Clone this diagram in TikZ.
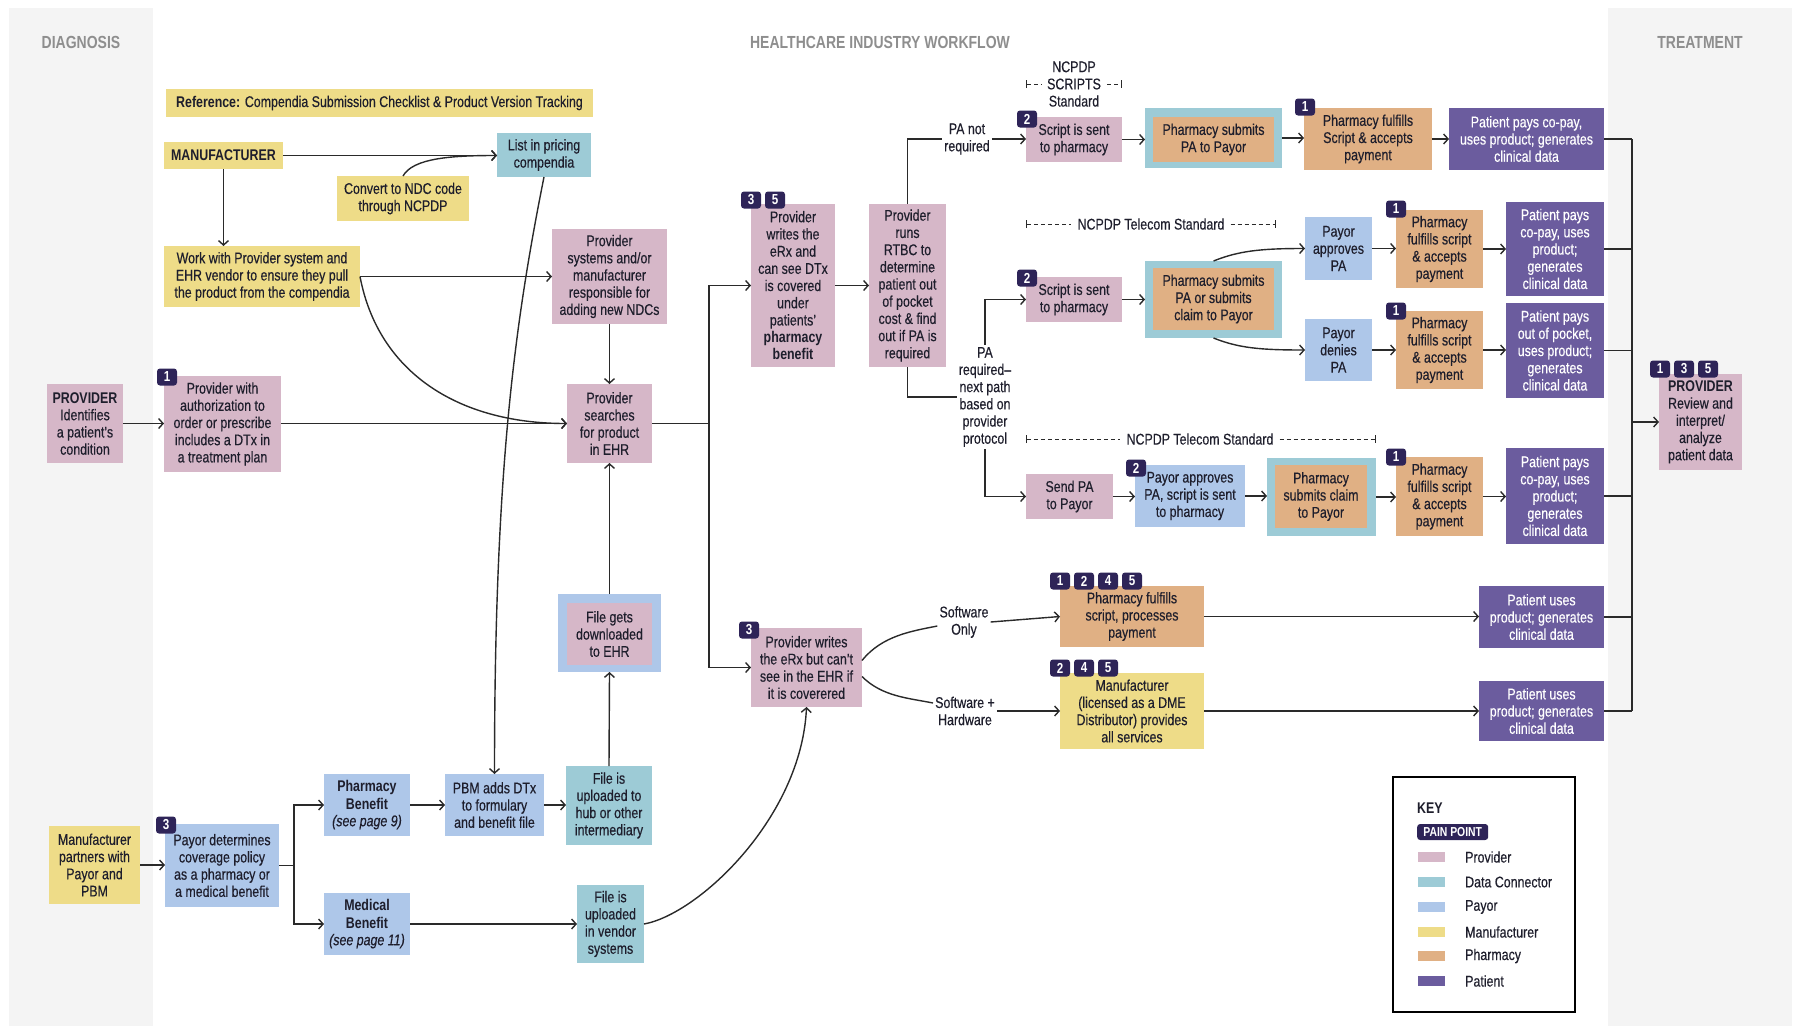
\documentclass[tikz,border=0pt]{standalone}
\usepackage{fontspec}
\setmainfont[FakeStretch=0.8, UprightFeatures={FakeBold=0.4}, ItalicFeatures={FakeBold=0.4}]{Liberation Sans}
\usetikzlibrary{arrows.meta,calc}
\definecolor{provc}{HTML}{D6B7C8}
\definecolor{connc}{HTML}{9DCBD6}
\definecolor{payc}{HTML}{AEC7E9}
\definecolor{manc}{HTML}{EEDC88}
\definecolor{pharmc}{HTML}{E0B084}
\definecolor{patc}{HTML}{6B5C9E}
\definecolor{badgec}{HTML}{2E2458}
\definecolor{bandc}{HTML}{F4F4F4}
\definecolor{titlec}{HTML}{8E8E8E}
\definecolor{txtc}{HTML}{1E1E2C}
\definecolor{linec}{HTML}{2A2A2A}
\newcommand\dfont{\fontsize{15.5}{17.2}\selectfont}
\tikzset{
  rect/.style n args={4}{minimum width={(#3-#1)*1pt}, minimum height={(#4-#2)*1pt}, at={({(#1+#3)/2},{(#2+#4)/2})}},
  box/.style={inner sep=0pt, outer sep=0pt, align=center, font=\dfont, text=txtc},
  prov/.style={box, fill=provc},
  conn/.style={box, fill=connc},
  payor/.style={box, fill=payc},
  manu/.style={box, fill=manc},
  pharm/.style={box, fill=pharmc},
  pat/.style={box, fill=patc, text=white},
  lbl/.style={inner sep=2pt, align=center, font=\dfont, text=txtc},
  stdlbl/.style={lbl, inner xsep=6pt},
  ttl/.style={inner sep=0pt, font=\bfseries\fontsize{17.5}{18}\selectfont, text=titlec},
  arr/.style={line width=1.4pt, draw=linec, -{Straight Barb[length=4.5pt,width=10pt]}},
  ln/.style={line width=1.4pt, draw=linec},
  dsh/.style={line width=1pt, draw=linec, dash pattern=on 4pt off 3pt},
  badge/.style={fill=badgec, text=white, font=\bfseries\fontsize{14.5}{14.5}\selectfont, rounded corners=3pt, minimum width=20pt, minimum height=17pt, inner sep=0pt}
}
\begin{document}
\begin{tikzpicture}[x=1pt,y=-1pt]
\useasboundingbox (0,0) rectangle (1802,1026);
\fill[bandc] (9,8) rectangle (153,1026);
\fill[bandc] (1608,8) rectangle (1792,1026);

% titles
\node[ttl] (tdiag) at (81,42) {DIAGNOSIS};
\node[ttl] (tmain) at (880,42) {HEALTHCARE INDUSTRY WORKFLOW};
\node[ttl] (ttreat) at (1700,42) {TREATMENT};

% top-left manufacturer area
\node[manu, rect={166}{89}{593}{117}] (ref) {\textbf{Reference:} Compendia Submission Checklist \& Product Version Tracking};
\node[manu, rect={164}{142}{283}{169}] (mfr) {\textbf{MANUFACTURER}};
\node[conn, rect={497}{133}{591}{177}] (list) {List in pricing\\compendia};
\node[manu, rect={337}{176}{469}{221}] (ndc) {Convert to NDC code\\through NCPDP};
\node[manu, rect={164}{246}{360}{307}] (work) {Work with Provider system and\\EHR vendor to ensure they pull\\the product from the compendia};
\node[prov, rect={552}{229}{667}{324}] (psys) {Provider\\systems and/or\\manufacturer\\responsible for\\adding new NDCs};
\node[prov, rect={567}{384}{652}{463}] (search) {Provider\\searches\\for product\\in EHR};

% provider row
\node[prov, rect={47}{384}{123}{463}] (provid) {\textbf{PROVIDER}\\Identifies\\a patient's\\condition};
\node[prov, rect={164}{376}{281}{472}] (auth) {Provider with\\authorization to\\order or prescribe\\includes a DTx in\\a treatment plan};
\node[badge] (bA) at (167,377) {1};

% eRx column
\node[prov, rect={751}{204}{835}{367}] (writes1) {Provider\\writes the\\eRx and\\can see DTx\\is covered\\under\\patients'\\\textbf{pharmacy}\\\textbf{benefit}};
\node[badge] (bB1) at (751,200) {3};
\node[badge] (bB2) at (775,200) {5};
\node[prov, rect={869}{204}{946}{367}] (rtbc) {Provider\\runs\\RTBC to\\determine\\patient out\\of pocket\\cost \& find\\out if PA is\\required};
\node[lbl] (panr) at (967,139) {PA not\\required};
\node[lbl] (pareq) at (985,397) {PA\\required–\\next path\\based on\\provider\\protocol};

% row 1
\node[stdlbl] (scripts) at (1074,84) {NCPDP\\SCRIPTS\\Standard};
\node[prov, rect={1026}{117}{1122}{162}] (script1) {Script is sent\\to pharmacy};
\node[badge] (bC) at (1027,119) {2};
\node[conn, rect={1145}{108}{1282}{168}] (sub1out) {};
\node[pharm, rect={1153}{117}{1274}{162}] (sub1) {Pharmacy submits\\PA to Payor};
\node[pharm, rect={1304}{108}{1432}{170}] (ful1) {Pharmacy fulfills\\Script \& accepts\\payment};
\node[badge] (bD) at (1305,107) {1};
\node[pat, rect={1449}{108}{1604}{170}] (pat1) {Patient pays co-pay,\\uses product; generates\\clinical data};

% row 2
\node[stdlbl] (tel1) at (1151,224) {NCPDP Telecom Standard};
\node[prov, rect={1026}{277}{1122}{322}] (script2) {Script is sent\\to pharmacy};
\node[badge] (bE) at (1027,278) {2};
\node[conn, rect={1145}{261}{1282}{338}] (sub2out) {};
\node[pharm, rect={1153}{268}{1274}{330}] (sub2) {Pharmacy submits\\PA or submits\\claim to Payor};
\node[payor, rect={1305}{217}{1372}{280}] (appr) {Payor\\approves\\PA};
\node[payor, rect={1305}{319}{1372}{381}] (deny) {Payor\\denies\\PA};
\node[pharm, rect={1396}{210}{1483}{288}] (ful2) {Pharmacy\\fulfills script\\\& accepts\\payment};
\node[badge] (bF) at (1396,209) {1};
\node[pharm, rect={1396}{311}{1483}{389}] (ful3) {Pharmacy\\fulfills script\\\& accepts\\payment};
\node[badge] (bG) at (1396,311) {1};
\node[pat, rect={1506}{202}{1604}{296}] (pat2) {Patient pays\\co-pay, uses\\product;\\generates\\clinical data};
\node[pat, rect={1506}{303}{1604}{398}] (pat3) {Patient pays\\out of pocket,\\uses product;\\generates\\clinical data};

% row 3
\node[stdlbl] (tel2) at (1200,439) {NCPDP Telecom Standard};
\node[prov, rect={1026}{474}{1113}{519}] (sendpa) {Send PA\\to Payor};
\node[payor, rect={1135}{465}{1245}{527}] (appr2) {Payor approves\\PA, script is sent\\to pharmacy};
\node[badge] (bH) at (1136,468) {2};
\node[conn, rect={1267}{458}{1376}{536}] (sub3out) {};
\node[pharm, rect={1275}{465}{1367}{528}] (sub3) {Pharmacy\\submits claim\\to Payor};
\node[pharm, rect={1396}{457}{1483}{536}] (ful4) {Pharmacy\\fulfills script\\\& accepts\\payment};
\node[badge] (bI) at (1396,457) {1};
\node[pat, rect={1506}{448}{1604}{544}] (pat4) {Patient pays\\co-pay, uses\\product;\\generates\\clinical data};

% treatment provider
\node[prov, rect={1659}{374}{1742}{470}] (review) {\textbf{PROVIDER}\\Review and\\interpret/\\analyze\\patient data};
\node[badge] (bJ1) at (1660,369) {1};
\node[badge] (bJ2) at (1684,369) {3};
\node[badge] (bJ3) at (1708,369) {5};

% bottom middle
\node[payor, rect={558}{594}{661}{672}] (dlout) {};
\node[prov, rect={567}{603}{652}{665}] (dl) {File gets\\downloaded\\to EHR};
\node[prov, rect={751}{628}{862}{707}] (writes2) {Provider writes\\the eRx but can't\\see in the EHR if\\it is coverered};
\node[badge] (bK) at (749,630) {3};
\node[lbl] (swonly) at (964,622) {Software\\Only};
\node[lbl] (swhw) at (965,711) {Software +\\Hardware};
\node[pharm, rect={1060}{586}{1204}{647}] (pharmsw) {Pharmacy fulfills\\script, processes\\payment};
\node[badge] (bL1) at (1060,581) {1};
\node[badge] (bL2) at (1084,581) {2};
\node[badge] (bL3) at (1108,581) {4};
\node[badge] (bL4) at (1132,581) {5};
\node[manu, rect={1060}{673}{1204}{749}] (dme) {Manufacturer\\(licensed as a DME\\Distributor) provides\\all services};
\node[badge] (bM1) at (1060,668) {2};
\node[badge] (bM2) at (1084,668) {4};
\node[badge] (bM3) at (1108,668) {5};
\node[pat, rect={1479}{586}{1604}{648}] (patsw) {Patient uses\\product; generates\\clinical data};
\node[pat, rect={1479}{681}{1604}{741}] (pathw) {Patient uses\\product; generates\\clinical data};

% bottom left
\node[manu, rect={49}{826}{140}{904}] (mpp) {Manufacturer\\partners with\\Payor and\\PBM};
\node[payor, rect={165}{824}{279}{907}] (paydet) {Payor determines\\coverage policy\\as a pharmacy or\\a medical benefit};
\node[badge] (bN) at (166,825) {3};
\node[payor, rect={324}{774}{410}{836}] (phben) {\textbf{Pharmacy}\\\textbf{Benefit}\\\textit{(see page 9)}};
\node[payor, rect={324}{893}{410}{955}] (medben) {\textbf{Medical}\\\textbf{Benefit}\\\textit{(see page 11)}};
\node[payor, rect={445}{774}{544}{836}] (pbm) {PBM adds DTx\\to formulary\\and benefit file};
\node[conn, rect={566}{766}{652}{845}] (hub) {File is\\uploaded to\\hub or other\\intermediary};
\node[conn, rect={577}{885}{644}{963}] (vendor) {File is\\uploaded\\in vendor\\systems};

% key
\node[draw=black, line width=1.5pt, fill=white, inner sep=0pt, rect={1393}{777}{1575}{1012}] (key) {};
\node[anchor=west, inner sep=0pt, font=\bfseries\dfont, text=txtc] (keyt) at (1417,808) {KEY};
\node[badge, anchor=west, minimum width=71pt, minimum height=16pt, font=\bfseries\fontsize{13}{13}\selectfont] (pp) at (1417,832) {PAIN POINT};
\foreach \c/\t/\yy/\n in {provc/Provider/857/1, connc/Data Connector/882/2, payc/Payor/907/3, manc/Manufacturer/932/4, pharmc/Pharmacy/956/5, patc/Patient/981/6}{
  \node[fill=\c, minimum width=27pt, minimum height=10pt, inner sep=0pt] (sw\n) at (1431.5,\yy) {};
  \node[anchor=west, inner sep=0pt, font=\dfont, text=txtc] (kl\n) at (1465,\yy) {\t};
}

% ---------- connectors ----------
\draw[arr] (mfr.east) -- (mfr.east -| list.west);
\draw[arr] (ndc.north) .. controls +(10,-18) and +(-45,0) .. (mfr.east -| list.west);
\draw[arr] (mfr.south) -- (mfr.south |- work.north);
\draw[arr] (work.east) -- (work.east -| psys.west);
\draw[arr] (work.east) .. controls +(18,95) and +(-110,0) .. (search.west);
\draw[arr] (list.south) .. controls +(-30,150) and +(0,-300) .. (pbm.north);
\draw[arr] (provid.east) -- (provid.east -| auth.west);
\draw[arr] (auth.east |- search.west) -- (search.west);
\draw[arr] (psys.south) -- (search.north);
\draw[arr] (dlout.north) -- (search.south);
\draw[arr] (hub.north) -- (dlout.south);

\coordinate (j1) at (709,423.5);
\draw[ln] (search.east) -- (j1);
\draw[arr] (j1) |- (writes1.west);
\draw[arr] (j1) |- (writes2.west);
\draw[arr] (writes1.east) -- (rtbc.west);
\draw[ln] (rtbc.north) |- (panr.west);
\draw[arr] (panr.east) -- (panr.east -| script1.west);
\draw[ln] (rtbc.south) |- (pareq.west);
\draw[arr] (pareq.north) |- (script2.west);
\draw[arr] (pareq.south) |- (sendpa.west);

% standards brackets
\draw[dsh, {Bar[width=8pt]}-] (script1.west |- scripts.center) -- (scripts.west);
\draw[dsh, -{Bar[width=8pt]}] (scripts.east) -- (script1.east |- scripts.center);
\draw[dsh, {Bar[width=8pt]}-] (script2.west |- tel1.center) -- (tel1.west);
\draw[dsh, -{Bar[width=8pt]}] (tel1.east) -- (1276,224);
\draw[dsh, {Bar[width=8pt]}-] (sendpa.west |- tel2.center) -- (tel2.west);
\draw[dsh, -{Bar[width=8pt]}] (tel2.east) -- (sub3out.east |- tel2.center);

% row 1
\draw[arr] (script1.east) -- (script1.east -| sub1out.west);
\draw[arr] (sub1out.east) -- (sub1out.east -| ful1.west);
\draw[arr] (ful1.east) -- (ful1.east -| pat1.west);
% row 2
\draw[arr] (script2.east) -- (script2.east -| sub2out.west);
\draw[arr] (sub2out.north) .. controls +(25,-10) and +(-45,0) .. (appr.west);
\draw[arr] (sub2out.south) .. controls +(25,10) and +(-45,0) .. (deny.west);
\draw[arr] (appr.east) -- (appr.east -| ful2.west);
\draw[arr] (deny.east) -- (deny.east -| ful3.west);
\draw[arr] (ful2.east) -- (ful2.east -| pat2.west);
\draw[arr] (ful3.east) -- (ful3.east -| pat3.west);
% row 3
\draw[arr] (sendpa.east) -- (sendpa.east -| appr2.west);
\draw[arr] (appr2.east) -- (appr2.east -| sub3out.west);
\draw[arr] (sub3out.east) -- (sub3out.east -| ful4.west);
\draw[arr] (ful4.east) -- (ful4.east -| pat4.west);

% software branches
\draw[ln] ([yshift=7pt]writes2.east) .. controls +(20,-25) and +(-25,5) .. ([yshift=-4pt]swonly.west);
\draw[ln] ([yshift=-9pt]writes2.east) .. controls +(20,20) and +(-25,-5) .. ([yshift=8pt]swhw.west);
\draw[arr] (swonly.east) -- (pharmsw.west);
\draw[arr] (swhw.east) -- (swhw.east -| dme.west);
\draw[arr] (pharmsw.east) -- (pharmsw.east -| patsw.west);
\draw[arr] (dme.east) -- (dme.east -| pathw.west);

% trunk to treatment
\coordinate (trtop) at (1632,139);
\coordinate (trbot) at (1632,711);
\draw[ln] (trtop) -- (trbot);
\foreach \p in {pat1,pat2,pat3,pat4,patsw,pathw}{
  \draw[ln] (\p.east) -- (\p.east -| trtop);
}
\draw[arr] (review.west -| trtop) -- (review.west);

% payor branches
\draw[arr] (mpp.east) -- (mpp.east -| paydet.west);
\coordinate (pj) at (294,865.5);
\draw[ln] (paydet.east) -- (pj);
\draw[arr] (pj) |- (phben.west);
\draw[arr] (pj) |- (medben.west);
\draw[arr] (phben.east) -- (phben.east -| pbm.west);
\draw[arr] (pbm.east) -- (pbm.east -| hub.west);
\draw[arr] (medben.east) -- (medben.east -| vendor.west);
\draw[arr] (vendor.east) .. controls +(55,-10) and +(-5,110) .. (writes2.south);
\end{tikzpicture}
\end{document}
